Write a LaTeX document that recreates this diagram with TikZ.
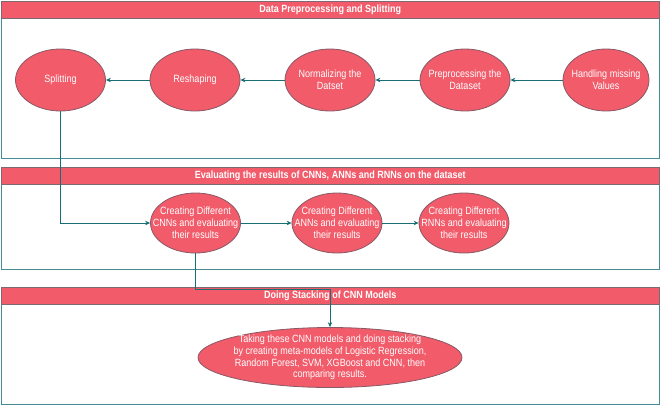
\documentclass[tikz,border=0pt]{standalone}
\usepackage{fontspec}
\setmainfont{Liberation Sans}[FakeStretch=0.86]
\usetikzlibrary{arrows.meta,shapes.geometric}
\definecolor{redfill}{RGB}{241,91,106}
\definecolor{elldraw}{RGB}{135,90,102}
\definecolor{hdrdraw}{RGB}{125,105,115}
\definecolor{secdraw}{RGB}{70,140,148}
\definecolor{conncol}{RGB}{25,110,118}
\tikzset{
  txt/.style={font=\fontsize{10.5}{11.8}\selectfont, text=white},
  ell/.style={ellipse, draw=elldraw, fill=redfill, line width=0.8pt, inner sep=0pt,
     minimum width=90pt, minimum height=62pt},
  etext/.style={label={[txt, align=center, inner sep=0pt]center:#1}},
  hdr/.style={rectangle, draw=hdrdraw, fill=redfill, line width=0.8pt, inner sep=0pt,
     minimum width=658.5pt, minimum height=17pt, txt, font=\fontsize{10.5}{12.5}\selectfont\bfseries},
  sec/.style={rectangle, draw=secdraw, line width=0.9pt, inner sep=0pt, minimum width=658.5pt},
  conn/.style={draw=conncol, line width=0.8pt, -{Stealth[length=5pt,width=4.5pt]}},
}
\begin{document}
\begin{tikzpicture}[x=1pt,y=-1pt]
\useasboundingbox (0,0) rectangle (661,405);
% sections
\node[sec, minimum height=157pt] (s1) at (330.25,79.5) {};
\node[hdr] (h1) at (330.25,9.5) {Data Preprocessing and Splitting};
\node[sec, minimum height=102pt] (s2) at (330.25,218) {};
\node[hdr] (h2) at (330.25,176) {Evaluating the results of CNNs, ANNs and RNNs on the dataset};
\node[sec, minimum height=117pt] (s3) at (330.25,345.5) {};
\node[hdr] (h3) at (330.25,295.5) {Doing Stacking of CNN Models};
% row 1
\node[ell, etext={Splitting}] (sp) at (60.5,80) {};
\node[ell, etext={Reshaping}] (rs) at (195,80) {};
\node[ell, etext={Normalizing the\\Datset}] (nm) at (330,80) {};
\node[ell, etext={Preprocessing the\\Dataset}] (pp) at (465,80) {};
\node[ell, minimum width=86pt, etext={Handling missing\\Values}] (hm) at (606,80) {};
% row 2
\node[ell, minimum width=90pt, minimum height=60pt, etext={Creating Different\\CNNs and evaluating\\their results}] (cnn) at (195.5,223) {};
\node[ell, minimum height=60pt, etext={Creating Different\\ANNs and evaluating\\their results}] (ann) at (337,223) {};
\node[ell, minimum height=60pt, etext={Creating Different\\RNNs and evaluating\\their results}] (rnn) at (464,223) {};
% row 3
\node[ell, minimum width=264pt, minimum height=60pt, etext={Taking these CNN models and doing stacking\\by creating meta-models of Logistic Regression,\\Random Forest, SVM, XGBoost and CNN, then\\comparing results.}] (stk) at (330,357.5) {};
% connectors
\draw[conn] (hm) -- (pp);
\draw[conn] (pp) -- (nm);
\draw[conn] (nm) -- (rs);
\draw[conn] (rs) -- (sp);
\draw[conn] (sp.south) |- (cnn.west);
\draw[conn] (cnn) -- (ann);
\draw[conn] (ann) -- (rnn);
\coordinate (bend) at (330,289);
\draw[conn] (cnn.south) |- (bend) -- (stk.north);
\end{tikzpicture}
\end{document}
